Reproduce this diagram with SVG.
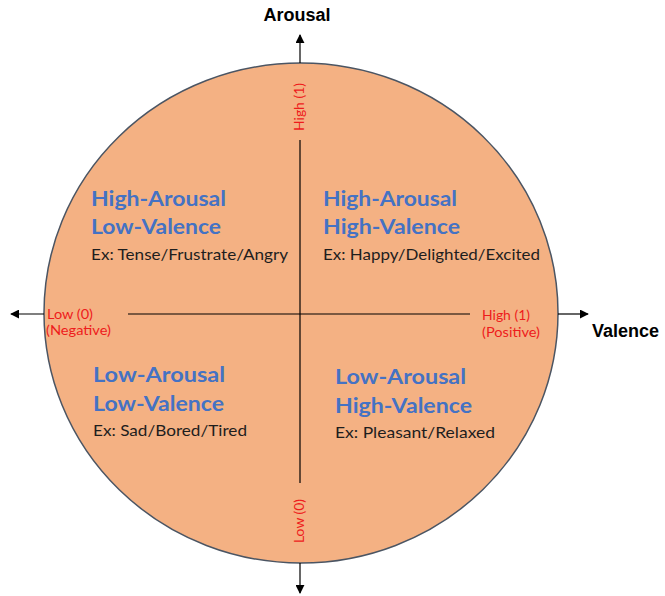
<svg xmlns="http://www.w3.org/2000/svg" width="665" height="596" viewBox="0 0 665 596">
  <defs>
    <marker id="arrow" viewBox="0 0 10 10" refX="9" refY="5" markerWidth="9" markerHeight="9" markerUnits="userSpaceOnUse" orient="auto">
      <path d="M0,0 L10,5 L0,10 z" fill="#000"/>
    </marker>
    <style>
      .disc { fill: #F4B183; stroke: #4B5563; stroke-width: 1.5; }
      .axis { stroke: #000; stroke-width: 1.2; fill: none; }
      .axis-title { font-family: "Liberation Sans", Arial, sans-serif; font-weight: bold; font-size: 18px; fill: #000; }
      .tick { font-family: "Lato", "Liberation Sans", sans-serif; font-size: 13px; fill: #EE1C1C; }
      .quad-title { font-family: "Lato", "Liberation Sans", sans-serif; font-weight: bold; font-size: 21px; fill: #4472C4; }
      .quad-ex { font-family: "Lato", "Liberation Sans", sans-serif; font-size: 16px; fill: #1E1E1E; }
    </style>
  </defs>

  <rect width="665" height="596" fill="#FFFFFF"/>

  <!-- circumplex disc -->
  <g id="disc">
    <ellipse class="disc" cx="301" cy="313" rx="257" ry="250"/>
  </g>

  <!-- axes -->
  <g id="connectors">
    <line class="axis" x1="300" y1="63" x2="300" y2="35" marker-end="url(#arrow)"/>
    <line class="axis" x1="300" y1="563" x2="300" y2="593" marker-end="url(#arrow)"/>
    <line class="axis" x1="44" y1="314" x2="11" y2="314" marker-end="url(#arrow)"/>
    <line class="axis" x1="558" y1="314" x2="588" y2="314" marker-end="url(#arrow)"/>
    <line class="axis" x1="300" y1="140" x2="300" y2="483"/>
    <line class="axis" x1="128" y1="314" x2="470" y2="314"/>
  </g>

  <!-- axis titles -->
  <g id="axis-arousal">
    <text class="axis-title" x="297" y="21" text-anchor="middle">Arousal</text>
  </g>
  <g id="axis-valence">
    <text class="axis-title" x="592" y="337">Valence</text>
  </g>

  <!-- axis end labels -->
  <g id="label-arousal-high">
    <text class="tick" transform="translate(304,131) rotate(-90)" textLength="48" lengthAdjust="spacingAndGlyphs">High (1)</text>
  </g>
  <g id="label-arousal-low">
    <text class="tick" transform="translate(304,543) rotate(-90)" textLength="44" lengthAdjust="spacingAndGlyphs">Low (0)</text>
  </g>
  <g id="label-valence-low">
    <text class="tick" x="47" y="319" textLength="46" lengthAdjust="spacingAndGlyphs">Low (0)</text>
    <text class="tick" x="46" y="335" textLength="65" lengthAdjust="spacingAndGlyphs">(Negative)</text>
  </g>
  <g id="label-valence-high">
    <text class="tick" x="482" y="320" textLength="48" lengthAdjust="spacingAndGlyphs">High (1)</text>
    <text class="tick" x="482" y="337" textLength="58" lengthAdjust="spacingAndGlyphs">(Positive)</text>
  </g>

  <!-- quadrants -->
  <g id="quadrant-ha-lv">
    <text class="quad-title" x="91" y="206" textLength="135" lengthAdjust="spacingAndGlyphs">High-Arousal</text>
    <text class="quad-title" x="91" y="234" textLength="130" lengthAdjust="spacingAndGlyphs">Low-Valence</text>
    <text class="quad-ex" x="91" y="260" textLength="197" lengthAdjust="spacingAndGlyphs">Ex: Tense/Frustrate/Angry</text>
  </g>
  <g id="quadrant-ha-hv">
    <text class="quad-title" x="323" y="206" textLength="134" lengthAdjust="spacingAndGlyphs">High-Arousal</text>
    <text class="quad-title" x="323" y="234" textLength="137" lengthAdjust="spacingAndGlyphs">High-Valence</text>
    <text class="quad-ex" x="323" y="260" textLength="217" lengthAdjust="spacingAndGlyphs">Ex: Happy/Delighted/Excited</text>
  </g>
  <g id="quadrant-la-lv">
    <text class="quad-title" x="93" y="382" textLength="132" lengthAdjust="spacingAndGlyphs">Low-Arousal</text>
    <text class="quad-title" x="93" y="411" textLength="131" lengthAdjust="spacingAndGlyphs">Low-Valence</text>
    <text class="quad-ex" x="93" y="436" textLength="154" lengthAdjust="spacingAndGlyphs">Ex: Sad/Bored/Tired</text>
  </g>
  <g id="quadrant-la-hv">
    <text class="quad-title" x="335" y="384" textLength="131" lengthAdjust="spacingAndGlyphs">Low-Arousal</text>
    <text class="quad-title" x="335" y="413" textLength="137" lengthAdjust="spacingAndGlyphs">High-Valence</text>
    <text class="quad-ex" x="335" y="438" textLength="160" lengthAdjust="spacingAndGlyphs">Ex: Pleasant/Relaxed</text>
  </g>
</svg>
